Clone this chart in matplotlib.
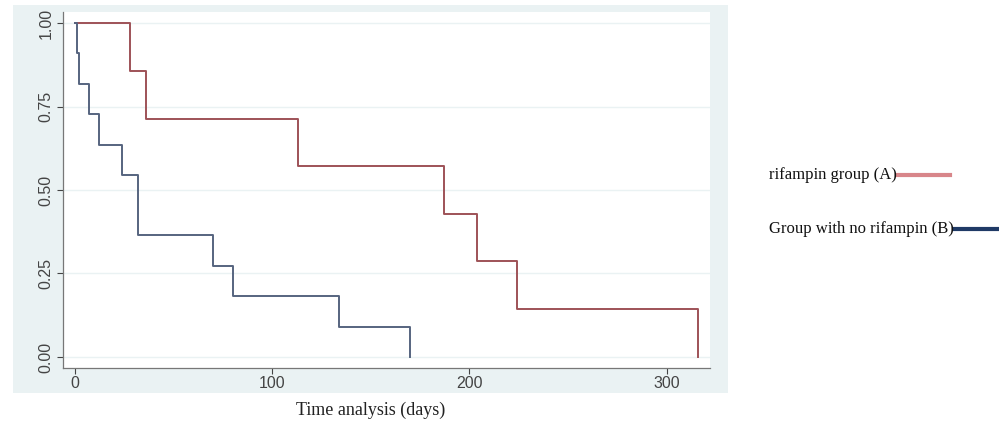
import matplotlib
matplotlib.use('Agg')
import matplotlib.pyplot as plt
from matplotlib.lines import Line2D
from matplotlib.patches import Rectangle

# Kaplan-Meier steps
days_a = [0, 28, 36, 113, 187, 204, 224, 316]
surv_a = [1.000, 0.857, 0.714, 0.571, 0.429, 0.286, 0.143, 0.000]
days_b = [0, 1, 2, 7, 12, 24, 32, 70, 80, 134, 170]
surv_b = [1.000, 0.909, 0.818, 0.727, 0.636, 0.545, 0.364, 0.273, 0.182, 0.091, 0.000]

label_a = "rifampin group (A)"
label_b = "Group with no rifampin (B)"
x_ticks = [0, 100, 200, 300]
y_ticks = [0.00, 0.25, 0.50, 0.75, 1.00]

W, H = 999, 438
fig = plt.figure(figsize=(W / 100, H / 100), dpi=100)
fig.patch.set_facecolor('white')

# Stata style grey panel behind the plot
fig.add_artist(Rectangle((13 / W, 1 - 393 / H), 715 / W, 388 / H,
                         transform=fig.transFigure, facecolor='#eaf2f3',
                         edgecolor='none', zorder=0))

ax = fig.add_axes([63 / W, 1 - 368 / H, 647 / W, 356 / H])
ax.set_facecolor('white')
ax.step(days_a, surv_a, where='post', color='#9e5257', linewidth=1.4)
ax.step(days_b, surv_b, where='post', color='#56647f', linewidth=1.4)

ax.set_xlim(-6, 322)
ax.set_ylim(-0.033, 1.033)
ax.set_xticks(x_ticks)
ax.set_yticks(y_ticks)
ax.set_yticklabels([f"{v:.2f}" for v in y_ticks], rotation=90, va='center')
ax.tick_params(labelsize=11.5, colors='#444444', length=4, width=0.8, pad=3)
ax.tick_params(axis='x', pad=2)
for t in ax.get_xticklabels() + ax.get_yticklabels():
    t.set_fontfamily('Liberation Sans')
ax.grid(axis='y', color='#eaf2f3', linewidth=1.0)
ax.set_axisbelow(True)
for s in ['top', 'right']:
    ax.spines[s].set_visible(False)
for s in ['left', 'bottom']:
    ax.spines[s].set_color('#777777')
    ax.spines[s].set_linewidth(0.9)

fig.text(371 / W, 1 - 410 / H, "Time analysis (days)", ha='center', va='center',
         fontsize=13, family='Liberation Serif', color='#222222')

# legend: text first, then its line right after it
fig.canvas.draw()
r = fig.canvas.get_renderer()
for lab, y, col, end in [(label_a, 175, '#d8868a', 950), (label_b, 229, '#1f3a66', 999)]:
    t = fig.text(769 / W, 1 - y / H, lab, ha='left', va='center',
                 fontsize=12, family='Liberation Serif', color='#111111')
    bb = t.get_window_extent(renderer=r)
    x0 = bb.x1 / W
    fig.add_artist(Line2D([x0, end / W], [1 - y / H, 1 - y / H],
                          transform=fig.transFigure, color=col, linewidth=3))

fig.savefig('out.png', dpi=100)
